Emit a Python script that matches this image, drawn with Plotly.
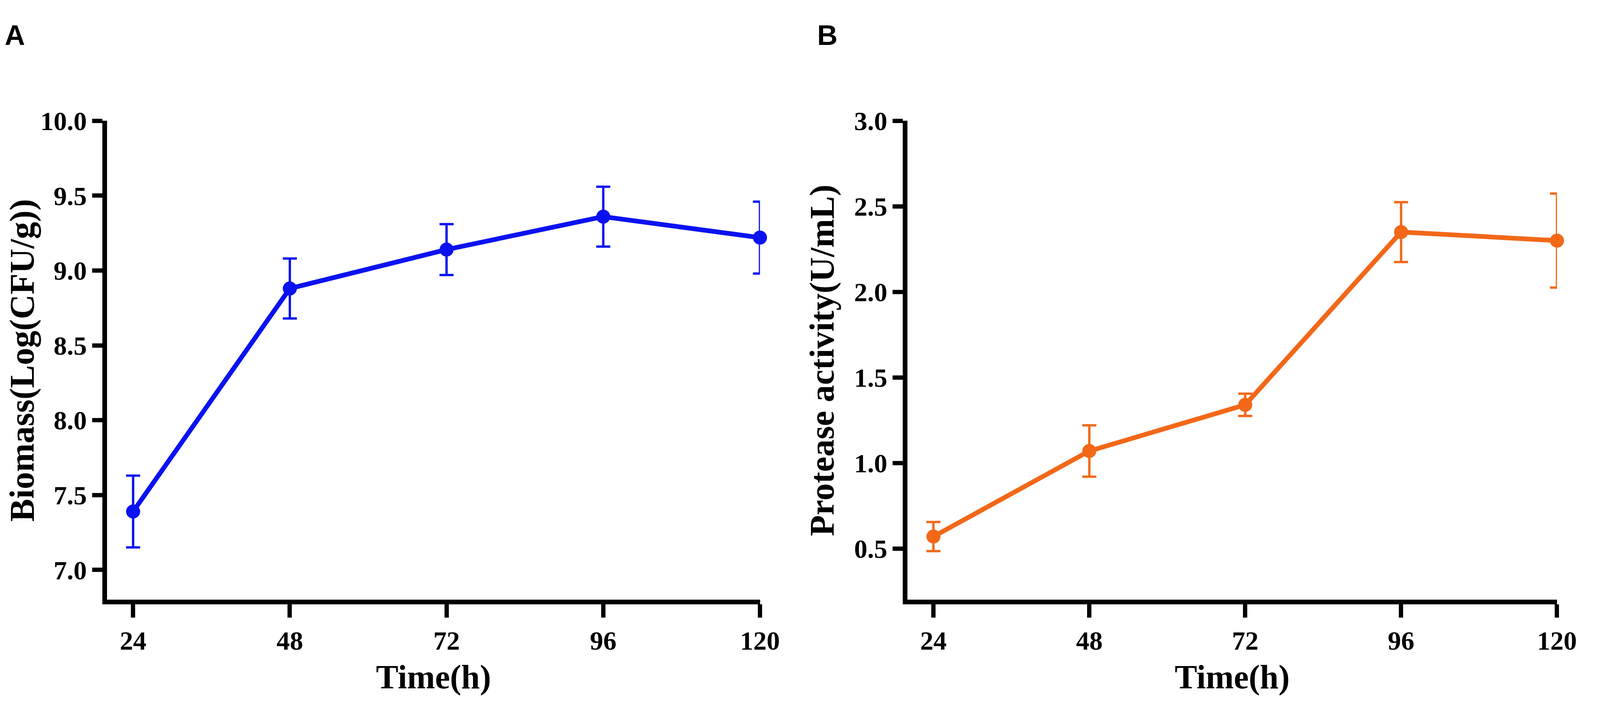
import plotly.graph_objects as go

# Sampling times (h)
TIME_H = [24, 48, 72, 96, 120]

# Panel A: biomass, Log(CFU/g), mean and SD
BIOMASS = [7.39, 8.88, 9.14, 9.36, 9.22]
BIOMASS_SD = [0.24, 0.20, 0.17, 0.20, 0.24]

# Panel B: protease activity, U/mL, mean and SD
PROTEASE = [0.57, 1.07, 1.34, 2.35, 2.30]
PROTEASE_SD = [0.085, 0.15, 0.065, 0.175, 0.275]

X_TICKS = [24, 48, 72, 96, 120]
Y_TICKS_A = [7.0, 7.5, 8.0, 8.5, 9.0, 9.5, 10.0]
Y_TICKS_B = [0.5, 1.0, 1.5, 2.0, 2.5, 3.0]

BLUE = "#0A12F0"
ORANGE = "#F26818"

SERIF = "Liberation Serif, Times New Roman, serif"
SANS = "Liberation Sans, Arial, sans-serif"

# the figure is autosized to the browser window, so the layout is given
# as paper fractions; sizes below are in screen px
X_DOM_A = [0.0660, 0.4809]
X_DOM_B = [0.5746, 0.9873]
Y_DOM = [0.1454, 0.8484]


def series(x, y, sd, color, xa, ya):
    return go.Scatter(
        x=x, y=y, xaxis=xa, yaxis=ya,
        mode="lines+markers",
        line=dict(color=color, width=12),
        marker=dict(color=color, size=36),
        error_y=dict(type="data", array=sd, visible=True,
                     color=color, thickness=6, width=18),
        showlegend=False,
        cliponaxis=False,
    )


fig = go.Figure()
fig.add_trace(series(TIME_H, BIOMASS, BIOMASS_SD, BLUE, "x", "y"))
fig.add_trace(series(TIME_H, PROTEASE, PROTEASE_SD, ORANGE, "x2", "y2"))

axis_common = dict(
    showline=True, linecolor="black", linewidth=12,
    ticks="outside", tickwidth=11, tickcolor="black",
    showgrid=False, zeroline=False,
    tickfont=dict(family=SERIF, size=68, color="black", weight="bold"),
)
x_common = dict(axis_common, range=[20, 120], tickvals=X_TICKS, ticklen=34)
y_common = dict(axis_common, tickformat=".1f", ticklen=26)

x_title = dict(text="Time(h)", standoff=30,
               font=dict(family=SERIF, size=86, color="black", weight="bold"))
y_title_font = dict(family=SERIF, size=88, color="black", weight="bold")

fig.update_layout(
    autosize=True,
    paper_bgcolor="white", plot_bgcolor="white",
    margin=dict(l=0, r=0, t=0, b=0),
    xaxis=dict(domain=X_DOM_A, anchor="y", title=x_title, **x_common),
    yaxis=dict(domain=Y_DOM, range=[6.8, 10.0], tickvals=Y_TICKS_A, anchor="x",
               title=dict(text="Biomass(Log(CFU/g))", font=y_title_font, standoff=28),
               **y_common),
    xaxis2=dict(domain=X_DOM_B, anchor="y2", title=x_title, **x_common),
    yaxis2=dict(domain=Y_DOM, range=[0.2, 3.0], tickvals=Y_TICKS_B, anchor="x2",
                title=dict(text="Protease activity(U/mL)", font=y_title_font, standoff=28),
                **y_common),
)

# panel letters
for label, xpos in [("A", 0.0005), ("B", 0.5167)]:
    fig.add_annotation(
        text=label, x=xpos, y=0.998, xref="paper", yref="paper",
        xanchor="left", yanchor="top", showarrow=False,
        font=dict(family=SANS, size=72, color="black", weight="bold"),
    )

fig.write_html("out.html")
